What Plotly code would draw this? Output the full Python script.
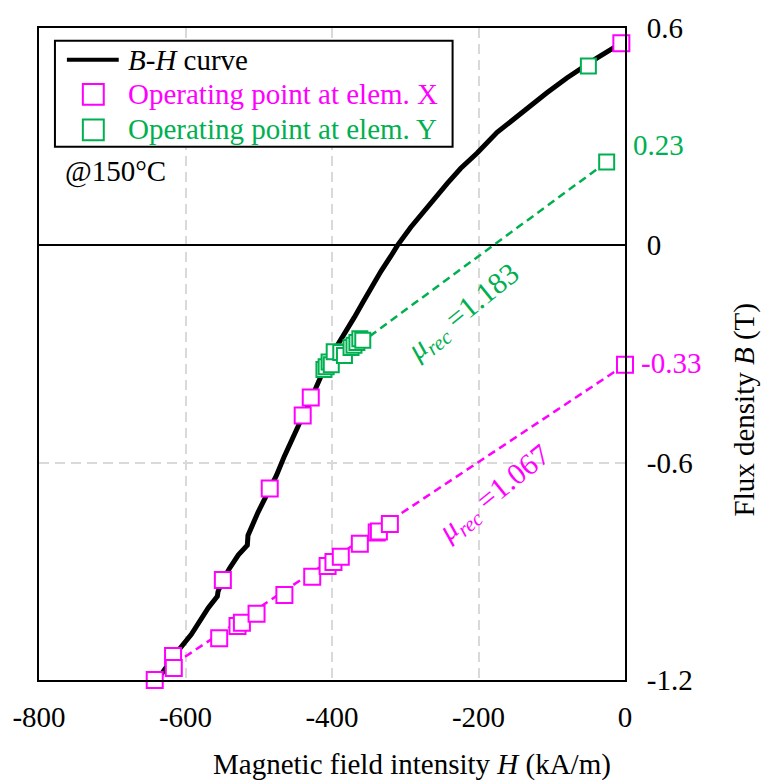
import plotly.graph_objects as go

# B-H demagnetisation curve at 150 degC (H in kA/m, B in T)
bh_H = [-638, -633, -612, -592, -569, -556.5, -555.6, -549, -540, -528, -515.6, -514.7,
        -501, -485, -476, -465, -453, -440, -435, -424, -410.5, -397, -383, -369.6,
        -358, -347, -333, -319.7, -310.6, -292.5, -279, -265.3, -242.6, -224.5,
        -201.8, -174.6, -152, -133.8, -106.6, -79.4, -61.2, -38.5, -5]
bh_B = [-1.200, -1.184, -1.124, -1.074, -1.001, -0.969, -0.956, -0.924, -0.892, -0.855,
        -0.828, -0.801, -0.737, -0.671, -0.636, -0.582, -0.527, -0.472, -0.454, -0.399,
        -0.340, -0.290, -0.240, -0.199, -0.158, -0.117, -0.071, -0.030, 0.000, 0.050,
        0.084, 0.118, 0.171, 0.212, 0.255, 0.312, 0.349, 0.380, 0.421, 0.462, 0.487,
        0.517, 0.558]

# operating points at element X
opx_H = [-5, -429, -440, -485, -549, -617, -642, 0, -616, -554, -529, -523, -503,
         -465, -427, -406, -398, -388, -362, -339, -336, -321]
opx_B = [0.558, -0.420, -0.470, -0.671, -0.924, -1.134, -1.200, -0.33, -1.167, -1.085,
         -1.051, -1.042, -1.017, -0.965, -0.915, -0.885, -0.874, -0.860, -0.824,
         -0.793, -0.790, -0.769]

# operating points at element Y
opy_H = [-50, -25, -411, -408, -404, -401, -397, -388, -383, -374, -370, -366, -362, -358]
opy_B = [0.495, 0.23, -0.343, -0.335, -0.322, -0.330, -0.294, -0.296, -0.304, -0.282,
         -0.276, -0.268, -0.258, -0.262]

# recoil lines
recx_H = [0, -603]
recx_B = [-0.33, -1.139]
recy_H = [-25, -352]
recy_B = [0.23, -0.256]

x_ticks = [-800, -600, -400, -200, 0]
x_tick_text = ["-800", "-600", "-400", "-200", "0"]
y_ticks = [-1.2, -0.6, 0, 0.6]
y_tick_text = ["-1.2", "-0.6", "0", "0.6"]

MAG = "#FF00FF"
GRN = "#00B050"
FONT = "Liberation Serif"
FS = 29

fig = go.Figure()

fig.add_trace(go.Scatter(x=recy_H, y=recy_B, mode="lines",
                         line=dict(color=GRN, width=2.5, dash="8px,5px"),
                         showlegend=False, hoverinfo="skip"))
fig.add_trace(go.Scatter(x=recx_H, y=recx_B, mode="lines",
                         line=dict(color=MAG, width=2.5, dash="8px,5px"),
                         showlegend=False, hoverinfo="skip"))
fig.add_trace(go.Scatter(x=bh_H, y=bh_B, mode="lines", name="B-H curve",
                         line=dict(color="black", width=5), showlegend=False,
                         cliponaxis=False))
fig.add_trace(go.Scatter(x=opy_H, y=opy_B, mode="markers", name="Operating point at elem. Y",
                         marker=dict(symbol="square", size=15, color="white",
                                     line=dict(color=GRN, width=2)),
                         showlegend=False, cliponaxis=False))
fig.add_trace(go.Scatter(x=opx_H, y=opx_B, mode="markers", name="Operating point at elem. X",
                         marker=dict(symbol="square", size=16, color="white",
                                     line=dict(color=MAG, width=2)),
                         showlegend=False, cliponaxis=False))

L, R, T, B = 37, 138, 21, 102
W, H = 763, 782
PW, PH = W - L - R, H - T - B


def px(xp):
    return (xp - L) / PW


def py(yp):
    return 1 - (yp - T) / PH


shapes = []
annotations = []

# legend frame and samples
shapes.append(dict(type="rect", xref="paper", yref="paper", x0=px(53), x1=px(452),
                   y0=py(141), y1=py(34), line=dict(color="black", width=2),
                   fillcolor="white", layer="above"))
shapes.append(dict(type="line", xref="paper", yref="paper", x0=px(65), x1=px(117),
                   y0=py(53), y1=py(53), line=dict(color="black", width=4), layer="above"))
for yc, col in [(88, MAG), (124, GRN)]:
    shapes.append(dict(type="rect", xref="paper", yref="paper", x0=px(81), x1=px(102),
                       y0=py(yc + 10.5), y1=py(yc - 10.5), line=dict(color=col, width=2),
                       fillcolor="white", layer="above"))

legend_rows = [("<i>B</i>-<i>H</i> curve", "black", 53),
               ("Operating point at elem. X", MAG, 88),
               ("Operating point at elem. Y", GRN, 123)]
for txt, col, yc in legend_rows:
    annotations.append(dict(text=txt, xref="paper", yref="paper", x=px(124), y=py(yc),
                            xanchor="left", yanchor="middle", showarrow=False,
                            font=dict(family=FONT, size=FS, color=col)))

annotations.append(dict(text="@150°C", xref="paper", yref="paper", x=px(61), y=py(166),
                        xanchor="left", yanchor="middle", showarrow=False,
                        font=dict(family=FONT, size=FS, color="black")))

# values of the recoil lines at the H = 0 side
annotations.append(dict(text="0.23", x=0, y=recy_B[0], xref="x", yref="y", xanchor="left",
                        yanchor="middle", xshift=6, yshift=17, showarrow=False,
                        font=dict(family=FONT, size=FS, color=GRN)))
annotations.append(dict(text="-0.33", x=0, y=recx_B[0], xref="x", yref="y", xanchor="left",
                        yanchor="middle", xshift=14, yshift=2, showarrow=False,
                        font=dict(family=FONT, size=FS, color=MAG)))

# recoil permeabilities
annotations.append(dict(text="<i>μ</i><sub><i>rec</i></sub> =1.183", x=-220, y=-0.187,
                        xref="x", yref="y", textangle=-39, showarrow=False,
                        font=dict(family=FONT, size=30, color=GRN)))
annotations.append(dict(text="<i>μ</i><sub><i>rec</i></sub> =1.067", x=-177, y=-0.687,
                        xref="x", yref="y", textangle=-39, showarrow=False,
                        font=dict(family=FONT, size=30, color=MAG)))

# axis titles
annotations.append(dict(text="Magnetic field intensity <i>H</i> (kA/m)", xref="paper",
                        yref="paper", x=px(411), y=py(765), xanchor="center",
                        yanchor="middle", showarrow=False,
                        font=dict(family=FONT, size=FS, color="black")))
annotations.append(dict(text="Flux density <i>B</i> (T)", xref="paper", yref="paper",
                        x=px(745), y=py(407), xanchor="center", yanchor="middle",
                        textangle=-90, showarrow=False,
                        font=dict(family=FONT, size=FS, color="black")))

fig.update_layout(
    width=W, height=H,
    margin=dict(l=L, r=R, t=T, b=B),
    paper_bgcolor="white", plot_bgcolor="white",
    showlegend=False,
    shapes=shapes, annotations=annotations,
    font=dict(family=FONT, size=FS, color="black"),
    xaxis=dict(range=[-800, 0], tickvals=x_ticks, ticktext=x_tick_text,
               showgrid=True, gridcolor="#D9D9D9", gridwidth=2, griddash="10px,6px",
               showline=True, linecolor="black", linewidth=2, mirror=True,
               zeroline=False, ticks="", ticklabelstandoff=10,
               tickfont=dict(family=FONT, size=FS, color="black")),
    yaxis=dict(range=[-1.2, 0.6], tickvals=y_ticks, ticktext=y_tick_text, side="right",
               showgrid=True, gridcolor="#D9D9D9", gridwidth=2, griddash="10px,6px",
               showline=True, linecolor="black", linewidth=2, mirror=True,
               zeroline=True, zerolinecolor="black", zerolinewidth=2,
               ticks="", ticklabelstandoff=14,
               tickfont=dict(family=FONT, size=FS, color="black")),
)

fig.write_html("out.html")
